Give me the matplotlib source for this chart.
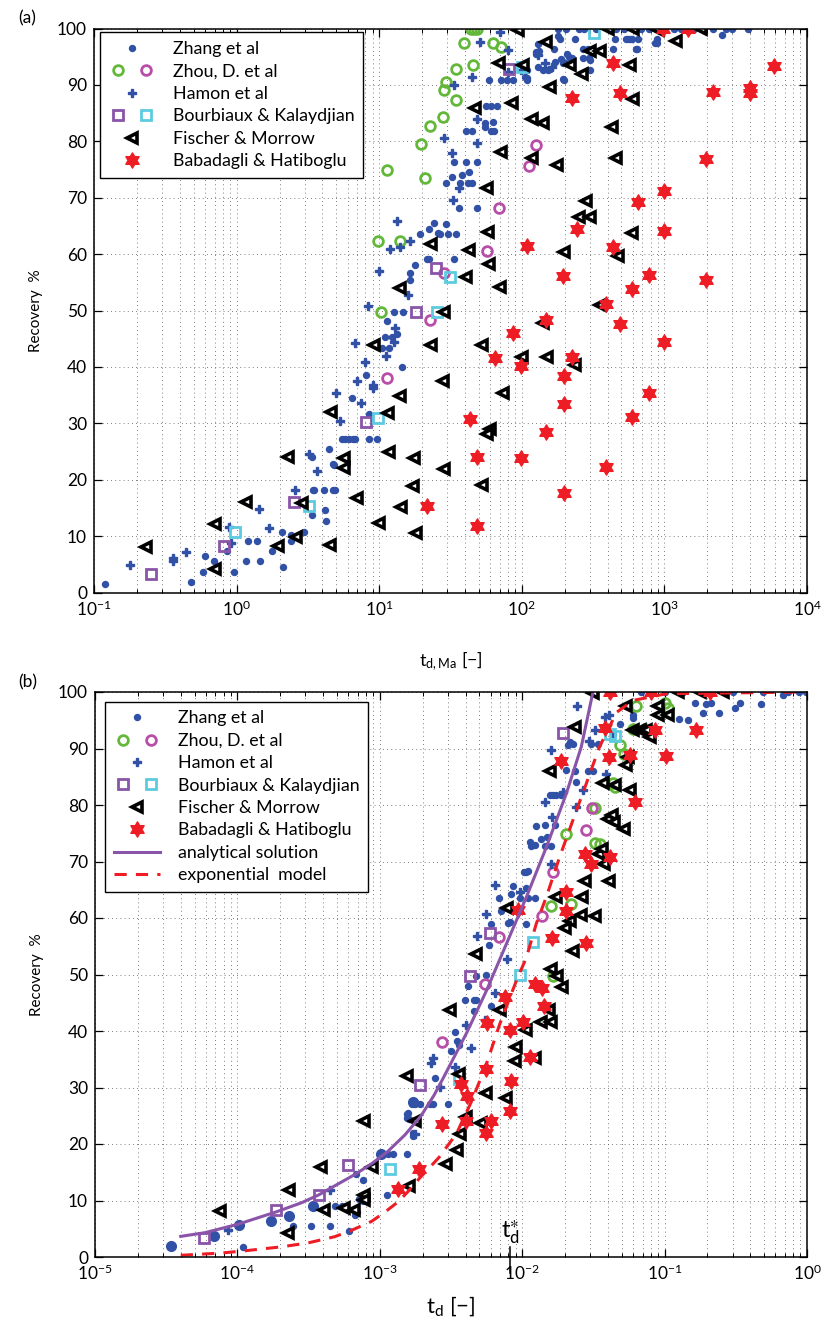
import numpy as np
import matplotlib
matplotlib.use("Agg")
import matplotlib.pyplot as plt
import matplotlib.path as mpath
from matplotlib.lines import Line2D
from matplotlib.legend_handler import HandlerTuple
from matplotlib.ticker import LogLocator, NullFormatter

plt.rcParams['font.family'] = ['Lato', 'DejaVu Sans']
plt.rcParams['mathtext.default'] = 'regular'

# ---------------- Panel (a) data : t_d,Ma vs recovery ----------------
zhang_a_x = [0.12, 0.48, 0.60, 0.58, 0.69, 0.85, 0.96, 1.2, 1.38, 1.17, 1.45, 1.77, 2.07, 2.11, 2.39, 2.42,
             2.95, 3.4, 3.4, 3.45, 3.5, 4.1, 4.77, 4.2, 4.25, 4.47, 4.77, 4.8, 4.9, 5.5, 5.8, 6.1, 6.5, 6.8,
             8.5, 9.7, 6.4, 8.5, 8.1, 14.5, 10.4, 11.7, 11.0, 12.2, 13.4, 11.3, 12.8, 14.7, 17.7, 16.4, 16.4,
             21.5, 22.3, 33.7, 24.4, 22.3, 19.3, 25.7, 26.9, 29.6, 30.3, 34.8, 36.2, 48.7, 29.5, 36.6, 41.9,
             44.9, 32.5, 38.2, 42.6, 33.7, 40.3, 48.7, 40.7, 44.9, 60.4, 63.7, 55, 55, 62.6, 55.7, 60.4, 67.1,
             59.2, 71.5, 78.7, 87.3, 108, 108, 108, 129, 140, 152, 196, 302, 170, 195, 200, 209, 215, 225,
             269, 302, 126, 126, 167, 267, 289, 433, 631, 640, 130, 178, 186, 552, 588, 648, 887, 887, 2520,
             132, 158, 187, 197, 105, 238, 453, 542, 572, 865, 295,
             178, 205, 253, 274, 330, 457, 520, 684, 783, 1000, 1170, 1300, 1600, 2180, 2700, 3000, 3830]
zhang_a_y = [1.5, 1.8, 6.4, 3.6, 5.5, 7.3, 3.6, 9.1, 9.1, 5.5, 5.5, 7.3, 10.8, 4.5, 10.2, 9.1,
             10.8, 13.7, 24.0, 18.1, 18.1, 18.1, 18.1, 14.6, 12.7, 25.4, 22.7, 22.6, 18.2, 27.2, 27.2, 27.2, 27.2, 27.2,
             27.2, 27.2, 34.5, 31.7, 38.5, 39.9, 43.4, 43.4, 45.3, 45.3, 45.8, 48.1, 49.8, 49.8, 58.1, 56.6, 55.4,
             59.1, 59.1, 59.1, 65.5, 64.5, 63.6, 63.7, 63.6, 65.3, 63.6, 63.6, 68.2, 68.2, 72.6, 72.6, 72.6,
             72.6, 73.7, 74.1, 74.6, 76.3, 76.3, 76.3, 81.8, 81.8, 81.8, 81.8, 83.2, 82.6, 83.5, 86.3, 86.3, 86.3,
             90.8, 90.8, 90.8, 90.8, 92.6, 91.3, 90.8, 93.2, 92.7, 92.7, 91.0, 92.7, 94.1, 93.9, 93.9, 95.5, 95.0, 94.7,
             94.7, 94.4, 95.9, 95.4, 96.3, 96.3, 96.3, 96.3, 96.3, 96.3, 97.2, 98.7, 98.2, 98.1, 98.1, 98.1, 98.2, 97.4, 98.8,
             96.0, 92.8, 94.6, 90.9, 91.4, 98.2, 98.2, 98.2, 98.2, 97.4, 94.8,
             100, 100, 100, 100, 100, 100, 100, 100, 100, 100, 100, 100, 100, 100, 100, 100, 100]

hamon_a_x = [0.18, 0.36, 0.36, 0.44, 0.91, 0.89, 1.44, 1.68, 2.56, 3.2, 3.68, 5.0, 5.3, 6.75, 7.0, 7.4, 7.9,
             8.4, 9.0, 9.0, 10, 11.1, 11.9, 12.7, 12.9, 13.4, 14.1, 16.0, 16.4, 28.4, 32.5, 33.0, 36.2, 33.4,
             44.9, 48.2, 48.7, 50.8, 70.6, 80, 79.4, 98.6, 130, 145, 164]
hamon_a_y = [4.9, 6.1, 5.5, 7.1, 8.7, 11.7, 14.8, 11.4, 18.1, 24.6, 21.6, 35.3, 30.4, 44.2, 37.5, 33.6, 40.9,
             50.8, 36.8, 36.2, 57.0, 41.9, 60.9, 44.5, 46.9, 65.8, 61.3, 52.7, 62.4, 80.5, 77.9, 69.6, 71.7, 89.9,
             91.4, 79.7, 84.0, 97.6, 99.3, 96.2, 92.3, 92.6, 95.3, 93.9, 93.2]

zhou_g_a_x = [44, 46, 48.7, 39.3, 63, 71, 45.6, 34.3, 29.6, 28.4, 34.8, 28.1, 22.6, 19.5, 11.4, 20.9, 9.8, 14, 10.3]
zhou_g_a_y = [100, 100, 100, 97.4, 97.4, 96.7, 93.6, 92.8, 90.5, 89.1, 87.4, 84.3, 82.7, 79.5, 74.9, 73.5, 62.4, 62.4, 49.8]
zhou_m_a_x = [126, 113, 69, 56.6, 28.7, 22.6, 11.4]
zhou_m_a_y = [79.4, 75.7, 68.2, 60.5, 56.7, 48.3, 38.0]

bour_p_a_x = [0.25, 0.82, 2.53, 8.1, 18, 25.2, 81.7]
bour_p_a_y = [3.3, 8.3, 16.1, 30.3, 49.8, 57.5, 92.9]
bour_c_a_x = [0.98, 3.22, 9.8, 25.5, 31.6, 101, 319]
bour_c_a_y = [10.8, 15.4, 30.9, 49.8, 55.9, 93.2, 99.2]

fisch_a_x = [0.23, 0.71, 0.70, 1.16, 1.96, 2.30, 2.63, 2.87, 4.5, 4.6,
             94, 147, 69, 102, 157, 86, 46.7, 117, 141, 71.8, 118, 177, 57, 57.8, 23.2, 42.8, 59, 197, 40.3,
             70, 14, 28.7, 9.2, 22.9, 52.7, 99.6, 151, 141, 28.1, 74, 14.1, 11.5, 59.7, 57.2, 11.7, 17.5, 5.7,
             5.7, 28.4, 52.7, 17.3, 7.0, 14.3, 9.95, 18,
             400, 600, 870, 1810, 1210, 302, 352, 219, 578, 265, 602, 430, 458, 284, 251, 302, 588, 473, 356, 238]
fisch_a_y = [8.0, 4.2, 12.1, 16.0, 8.2, 24.0, 9.9, 15.8, 8.5, 32,
             99.7, 97.6, 93.8, 93.6, 89.6, 86.8, 85.9, 84.0, 83.2, 78.1, 77.0, 75.8, 71.7, 63.9, 61.8, 60.8, 58.2, 60.4, 56.0,
             54.1, 54.0, 49.8, 43.9, 43.9, 43.9, 41.8, 41.7, 47.7, 37.5, 35.3, 34.8, 31.8, 29.0, 28.1, 24.9, 23.9, 23.9,
             22.0, 21.9, 19.1, 18.8, 16.7, 15.1, 12.4, 10.6,
             100, 100, 100, 100, 97.8, 96.0, 96.0, 93.6, 93.6, 92.0, 87.5, 82.5, 77.0, 69.4, 66.6, 66.6, 63.7, 59.6, 51.0, 40.4]

baba_a_x = [109, 195, 147, 87, 64.7, 98, 198, 198, 147, 43.3, 48.7, 98, 198, 21.5, 48.7,
            980, 1460, 437, 5900, 487, 2190, 3960, 3960, 225, 1970, 990, 653, 244, 990, 437, 785, 1970, 588,
            392, 487, 990, 225, 785, 588, 392]
baba_a_y = [61.5, 56.2, 48.3, 46.0, 41.5, 40.2, 38.3, 33.4, 28.5, 30.8, 24.0, 23.8, 17.7, 15.3, 11.8,
            100, 100, 93.8, 93.4, 88.6, 88.7, 89.5, 88.5, 87.7, 76.8, 71.2, 69.3, 64.5, 64.1, 61.3, 56.3, 55.4, 53.8,
            51.1, 47.6, 44.4, 41.7, 35.4, 31.1, 22.2]

# ---------------- Panel (b) data : t_d vs recovery ----------------
zhang_b_x = [1.1e-4, 2.44e-4, 3.31e-4, 4.47e-4, 4.83e-4, 5.44e-4, 6.05e-4, 6.68e-4, 7.64e-4, 6.85e-4, 1.14e-3,
             1.23e-3, 1.13e-3, 1.56e-3, 1.58e-3, 1.6e-3, 1.78e-3, 6.9e-4, 7.2e-4,
             0.0215, 0.0227, 0.0209, 0.0304, 0.0340, 0.0204, 0.0233, 0.0237, 0.0156, 0.0165, 0.0174, 0.0188,
             0.01256, 0.01452, 0.0169, 0.0136, 0.0149, 0.01127, 0.01159, 0.01222, 0.01439, 0.0160, 0.01023,
             0.0107, 0.01096, 0.0086, 0.01057, 0.00687, 0.00839, 0.0097, 0.01099, 0.01222, 0.00713, 0.00794,
             0.00817, 0.00607, 0.00585, 0.01057, 0.00417, 0.00471, 0.0056, 0.00394, 0.00456, 0.00476, 0.00456,
             0.00607, 0.00336, 0.00348, 0.0036, 0.00318, 0.00243, 0.00167, 0.00176, 0.00191, 0.00224, 0.00237,
             0.00301, 0.00156, 0.00156, 0.00171, 0.00171, 0.0290, 0.0314,
             0.0686, 0.1, 0.1346, 0.302, 0.49, 0.735, 0.885, 0.986, 0.127, 0.146, 0.186, 0.163, 0.213, 0.24,
             0.31, 0.34, 0.477, 0.06, 0.06, 0.0483, 0.0435, 0.196, 0.676]
zhang_b_y = [1.8, 5.5, 5.4, 5.5, 9.1, 9.1, 4.6, 7.4, 13.7, 14.7, 18.2,
             18.2, 10.9, 18.2, 25.4, 24.5, 27.4, 8.0, 10.2,
             91.1, 90.8, 90.6, 90.8, 90.8, 86.2, 86.1, 84.1, 81.7, 81.7, 81.7, 81.7,
             76.2, 76.4, 76.4, 74.0, 74.4, 73.4, 72.7, 73.0, 72.7, 72.7, 68.1,
             68.1, 68.3, 65.6, 65.3, 63.6, 64.2, 63.6, 63.6, 63.6, 61.2, 59.1,
             59.3, 59.0, 55.3, 59.0, 48.0, 49.8, 50.0, 45.4, 45.4, 45.4, 43.5,
             44.5, 39.9, 38.2, 37.6, 36.4, 31.7, 27.1, 27.1, 27.1, 27.1, 27.1,
             27.1, 25.3, 24.6, 22.0, 21.4, 86.1, 86.1,
             100, 100, 100, 100, 100, 100, 100, 100, 95.3, 95.0, 96.2, 98.1, 98.1, 96.2,
             97.1, 98.1, 97.9, 95.9, 95.4, 94.4, 92.6, 97.9, 99.4]
zhang_b_big_x = [3.4e-5, 6.8e-5, 1.02e-4, 1.72e-4, 2.3e-4, 3.4e-4, 7.6e-4, 1.02e-3, 1.7e-3]
zhang_b_big_y = [1.9, 3.7, 5.6, 6.4, 7.2, 9.1, 10.3, 18.2, 27.4]

hamon_b_x = [8.6e-5, 4.47e-4, 1.76e-3, 0.0242, 0.016, 0.0294, 0.0322, 0.0193, 0.0267, 0.0144, 0.0237,
             0.0163, 0.016, 0.00641, 0.0096, 0.0056, 0.00482, 0.00782, 0.00641, 0.00544, 0.00401, 0.0044,
             0.00237, 0.0023, 0.00266, 0.00336, 0.0407, 0.038, 0.039]
hamon_b_y = [4.8, 11.8, 21.8, 97.5, 89.8, 91.4, 93.2, 82.3, 82.6, 80.5, 79.6,
             77.9, 69.6, 65.9, 64.6, 60.7, 56.9, 52.7, 46.8, 41.9, 41.0, 37.0,
             35.3, 34.4, 30.1, 33.6, 95.9, 95.6, 85.5]

zhou_g_b_x = [0.0204, 0.0327, 0.0322, 0.016, 0.0221, 0.0164, 0.1, 0.1057, 0.0632, 0.06, 0.0724, 0.0483,
              0.0515, 0.0435, 0.0446, 0.035]
zhou_g_b_y = [74.8, 73.3, 79.5, 62.2, 62.5, 49.8, 98.0, 97.1, 97.6, 93.5, 93.5, 90.6,
              89.1, 83.9, 83.2, 73.1]
zhou_m_b_x = [0.0310, 0.0279, 0.01644, 0.01384, 0.00687, 0.0055, 0.00275]
zhou_m_b_y = [79.5, 75.6, 68.1, 60.4, 56.7, 48.4, 38.0]

bour_p_b_x = [5.85e-5, 1.88e-4, 3.73e-4, 6.0e-4, 1.91e-3, 0.00428, 0.00592, 0.0193]
bour_p_b_y = [3.3, 8.4, 11.0, 16.2, 30.4, 49.8, 57.3, 92.7]
bour_c_b_x = [1.18e-3, 0.0036, 0.0097, 0.0120, 0.0411, 0.0450]
bour_c_b_y = [15.6, 31.5, 50.0, 55.7, 92.6, 92.2]

fisch_b_x = [7.6e-5, 2.25e-4, 2.3e-4, 3.85e-4, 4.07e-4, 5.6e-4, 6.6e-4, 7.76e-4, 7.76e-4, 7.76e-4, 8.83e-4,
             1.6e-3, 1.54e-3, 1.76e-3,
             0.0314, 0.0233, 0.0156, 0.0349, 0.0274, 0.0264, 0.01734, 0.026, 0.0322, 0.0215, 0.0199, 0.00782,
             0.0227, 0.00471, 0.016, 0.01754, 0.0191, 0.0031, 0.00701, 0.01542, 0.0136, 0.016, 0.0107, 0.009,
             0.00885, 0.01222, 0.0036, 0.00555, 0.00766, 0.00405, 0.00516, 0.00363, 0.0029, 0.0035,
             0.124, 0.176, 0.257, 0.0538, 0.0897, 0.0897, 0.1057, 0.06, 0.0668, 0.0745, 0.0785, 0.0556, 0.0538,
             0.0369, 0.0446, 0.0574, 0.0401, 0.043, 0.0439, 0.0515, 0.0366, 0.0373, 0.0407]
fisch_b_y = [8.1, 4.2, 11.9, 15.9, 8.4, 8.7, 8.4, 10.9, 10.1, 24.1, 15.9,
             12.5, 32.0, 24.1,
             99.8, 93.8, 86.0, 71.4, 66.5, 63.7, 63.7, 60.6, 60.3, 59.5, 58.2, 61.8,
             54.1, 53.6, 51.0, 49.8, 47.7, 43.8, 43.7, 43.7, 41.6, 41.6, 40.2, 37.2,
             34.7, 35.3, 32.4, 29.0, 28.2, 24.7, 23.8, 21.7, 16.5, 19.0,
             100, 100, 100, 97.6, 97.6, 95.9, 95.9, 93.3, 93.2, 93.2, 92.0, 88.5, 87.0,
             83.9, 83.5, 82.6, 77.6, 78.2, 77.0, 75.8, 72.2, 69.6, 66.5]

baba_b_x = [1.35e-3, 1.88e-3, 0.0188, 0.0274, 0.0305, 0.0204, 0.0204, 0.00933, 0.01626, 0.0282, 0.01222,
            0.01384, 0.00753, 0.01413, 0.00566, 0.00817, 0.01012, 0.01127, 0.00555, 0.00374, 0.0084, 0.0041,
            0.00817, 0.00275, 0.00405, 0.00607, 0.0056,
            0.0411, 0.0807, 0.207, 0.0851, 0.165, 0.038, 0.0569, 0.103, 0.0407, 0.0617, 0.0411]
baba_b_y = [12.1, 15.5, 87.8, 71.4, 69.5, 64.6, 61.3, 61.4, 56.5, 55.5, 48.3,
            47.6, 46.1, 44.5, 41.4, 40.2, 41.6, 35.4, 33.3, 30.6, 31.1, 28.5,
            25.8, 23.6, 24.1, 24.1, 22.0,
            100, 100, 100, 93.3, 93.3, 93.7, 88.8, 88.6, 88.5, 80.5, 70.8]

analytic_x = [4.0e-5, 5.9e-5, 1.01e-4, 1.88e-4, 2.82e-4, 3.73e-4, 4.83e-4, 6.68e-4, 8.75e-4, 1.14e-3,
              1.5e-3, 1.95e-3, 2.4e-3, 2.78e-3, 4.06e-3, 5.6e-3, 7.74e-3, 0.0107, 0.01476, 0.0204, 0.026, 0.0314]
analytic_y = [3.65, 4.3, 5.8, 8.0, 9.6, 11.0, 12.6, 14.6, 16.5, 18.7,
              21.6, 25.0, 28.6, 31.6, 39.6, 47.1, 55.4, 63.7, 72.5, 82.0, 90.3, 100]
expo_x = [4.0e-5, 7.7e-5, 1.13e-4, 2.04e-4, 3.14e-4, 4.83e-4, 6.3e-4, 8.75e-4, 1.08e-3, 1.35e-3, 1.58e-3,
          1.91e-3, 2.6e-3, 3.45e-3, 4.4e-3, 5.6e-3, 6.95e-3, 9.1e-3, 0.0107, 0.01256, 0.01476, 0.01832, 0.0227,
          0.0282, 0.0349, 0.046, 0.06, 0.103, 1.0]
expo_y = [0.3, 0.7, 1.1, 1.8, 2.5, 3.6, 4.7, 6.3, 7.9, 9.8, 11.6,
          14.0, 17.6, 21.8, 27.5, 34.1, 41.2, 48.9, 53.0, 59.0, 63.7, 70.8, 77.3,
          83.8, 90.3, 96.4, 98.5, 99.7, 100]
td_star = 8.2e-3

# ---------------- styles ----------------
BLUE = '#3151a6'
GREEN = '#63b83a'
MAGENTA = '#b84ea8'
PURPLE = '#8a55a8'
CYAN = '#5ccbe0'
RED = '#ee1c25'
HEX = mpath.Path.unit_regular_star(6, 0.57735)

fig = plt.figure(figsize=(8.26, 13.26), dpi=100)
ax_a = fig.add_axes([94/826, 1 - 592.5/1326, 713/826, 564/1326])
ax_b = fig.add_axes([95/826, 1 - 1257/1326, 712/826, 565/1326])

GRID = dict(ls=(0, (1, 4)), color='#555555', lw=0.6)


def style_axes(ax):
    ax.set_xscale('log')
    ax.set_ylim(0, 100)
    ax.set_yticks(np.arange(0, 101, 10))
    ax.xaxis.set_major_locator(LogLocator(base=10, numticks=10))
    ax.xaxis.set_minor_locator(LogLocator(base=10, subs=np.arange(2, 10), numticks=10))
    ax.xaxis.set_minor_formatter(NullFormatter())
    ax.tick_params(which='both', direction='in', top=True, right=True, labelsize=12.5, pad=5)
    ax.tick_params(which='major', length=6, width=0.9)
    ax.tick_params(which='minor', length=3, width=0.7)
    for s in ax.spines.values():
        s.set_linewidth(1.1)
    ax.grid(True, which='major', axis='both', **GRID)
    ax.grid(True, which='minor', axis='x', **GRID)
    ax.set_axisbelow(True)


def scatter_sets(ax, zx, zy, gx, gy, mx, my, hx, hy, px, py, cx, cy, fx, fy, bx, by, zbx=None, zby=None):
    ax.plot(zx, zy, 'o', color=BLUE, ms=4.3, mec=BLUE, ls='none')
    if zbx is not None:
        ax.plot(zbx, zby, 'o', color=BLUE, ms=7, mec=BLUE, ls='none')
    ax.plot(gx, gy, 'o', mfc='none', mec=GREEN, ms=7, mew=2, ls='none')
    ax.plot(mx, my, 'o', mfc='none', mec=MAGENTA, ms=7, mew=2, ls='none')
    ax.plot(hx, hy, 'P', color=BLUE, ms=6, mec=BLUE, ls='none')
    ax.plot(px, py, 's', mfc='none', mec=PURPLE, ms=6.5, mew=2, ls='none')
    ax.plot(cx, cy, 's', mfc='none', mec=CYAN, ms=6.5, mew=2, ls='none')
    ax.plot(fx, fy, '<', mfc='white', mec='black', ms=7.5, mew=2.6, ls='none')
    ax.plot(bx, by, marker=HEX, color=RED, mec=RED, ms=11, ls='none')


# ---- panel (a)
style_axes(ax_a)
ax_a.set_xlim(1e-1, 1e4)
scatter_sets(ax_a, zhang_a_x, zhang_a_y, zhou_g_a_x, zhou_g_a_y, zhou_m_a_x, zhou_m_a_y,
             hamon_a_x, hamon_a_y, bour_p_a_x, bour_p_a_y, bour_c_a_x, bour_c_a_y,
             fisch_a_x, fisch_a_y, baba_a_x, baba_a_y)
ax_a.set_xlabel(r'$t_{d,Ma}$ [−]', fontsize=13, labelpad=22)
ax_a.set_ylabel('Recovery  %', fontsize=11, labelpad=10)

# ---- panel (b)
style_axes(ax_b)
ax_b.set_xlim(1e-5, 1e0)
scatter_sets(ax_b, zhang_b_x, zhang_b_y, zhou_g_b_x, zhou_g_b_y, zhou_m_b_x, zhou_m_b_y,
             hamon_b_x, hamon_b_y, bour_p_b_x, bour_p_b_y, bour_c_b_x, bour_c_b_y,
             fisch_b_x, fisch_b_y, baba_b_x, baba_b_y, zhang_b_big_x, zhang_b_big_y)
ax_b.plot(analytic_x, analytic_y, '-', color=PURPLE, lw=2.2)
ax_b.plot(expo_x, expo_y, '--', color=RED, lw=2.2, dashes=(4, 3))
ax_b.set_xlabel(r'$t_d$ [−]', fontsize=16, labelpad=8)
ax_b.set_ylabel('Recovery  %', fontsize=11, labelpad=10)
ax_b.plot([td_star, td_star], [1.8, -2.8], color='black', lw=1.1, clip_on=False)
ax_b.text(td_star, 3.4, r'$t_d^{\ast}$', fontsize=17, ha='center', va='baseline')


# ---- legends
def handles(with_lines):
    h = [Line2D([], [], marker='o', color=BLUE, ls='none', ms=4.3),
         (Line2D([], [], marker='o', mfc='none', mec=GREEN, mew=2, ms=7, ls='none'),
          Line2D([], [], marker='o', mfc='none', mec=MAGENTA, mew=2, ms=7, ls='none')),
         Line2D([], [], marker='P', color=BLUE, ls='none', ms=6),
         (Line2D([], [], marker='s', mfc='none', mec=PURPLE, mew=2, ms=6.5, ls='none'),
          Line2D([], [], marker='s', mfc='none', mec=CYAN, mew=2, ms=6.5, ls='none')),
         Line2D([], [], marker='<', mfc='white', mec='black', mew=2.6, ms=7.5, ls='none'),
         Line2D([], [], marker=HEX, color=RED, ms=11, ls='none')]
    labels = ['Zhang et al', 'Zhou, D. et al', 'Hamon et al', 'Bourbiaux & Kalaydjian',
              'Fischer & Morrow', 'Babadagli & Hatiboglu']
    if with_lines:
        h += [Line2D([], [], color=PURPLE, lw=2.2),
              Line2D([], [], color=RED, lw=2.2, ls='--', dashes=(4, 3))]
        labels += ['analytical solution', 'exponential  model']
    return h, labels


for ax, wl, anchor in [(ax_a, False, (0.0084, 0.9933)), (ax_b, True, (0.014, 0.983))]:
    h, l = handles(wl)
    leg = ax.legend(h, l, loc='upper left', bbox_to_anchor=anchor, borderaxespad=0,
                    fontsize=12.8, handler_map={tuple: HandlerTuple(ndivide=None, pad=0.6)},
                    handlelength=2.6, handletextpad=1.0, labelspacing=0.36, borderpad=0.5,
                    fancybox=False, framealpha=1, edgecolor='black')
    leg.get_frame().set_linewidth(1.0)

fig.text(18/826, 1 - 18/1326, '(a)', fontsize=12.5, va='center')
fig.text(18/826, 1 - 682/1326, '(b)', fontsize=12.5, va='center')

fig.savefig('out.png', dpi=100)
